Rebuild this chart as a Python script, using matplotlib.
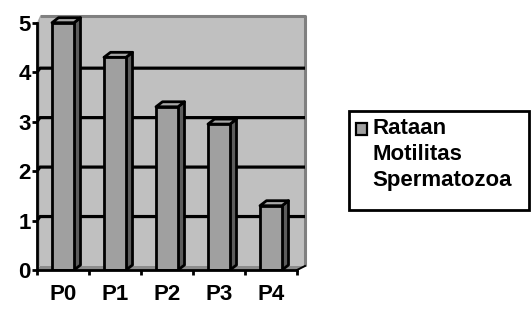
import matplotlib.pyplot as plt
from matplotlib.patches import Polygon, Rectangle

# data
categories = ['P0', 'P1', 'P2', 'P3', 'P4']
values = [5.0, 4.3, 3.3, 2.95, 1.3]
yticks = [0, 1, 2, 3, 4, 5]
legend_label = 'Rataan\nMotilitas\nSpermatozoa'

plt.rcParams['font.family'] = ['Liberation Sans', 'DejaVu Sans']
plt.rcParams['font.weight'] = 'bold'

W, H = 531, 313
fig = plt.figure(figsize=(W / 100, H / 100), dpi=100)

# axes placed in pixels: front axis 37..297 in x, 0 at y=270 and 5 at y=22.7
px_x = 52.0
px_y = (270 - 22.7) / 5
x0, y0 = 37, 270
ax_right, ax_top = 312, 10
ax = fig.add_axes([x0 / W, (H - y0) / H, (ax_right - x0) / W, (y0 - ax_top) / H])
ax.set_xlim(-0.5, -0.5 + (ax_right - x0) / px_x)
ax.set_ylim(0, (y0 - ax_top) / px_y)
ax.patch.set_visible(False)

# depth of the back wall (perspective: smaller on the left)
dxl = 3 / px_x
dxr = 8 / px_x
dy = 4 / px_y
wall_top = (y0 - 16) / px_y
n = len(categories)
xl, xr = -0.5, n - 0.5

wall_col = '#c0c0c0'
edge_gray = '#808080'
lw_main = 2.0
fs = 16

# left side wall and floor
ax.add_patch(Polygon([(xl, 0), (xl + dxl, dy), (xl + dxl, wall_top), (xl, 5)],
                     closed=True, facecolor='#a8a8a8', edgecolor='none', zorder=1))
ax.add_patch(Polygon([(xl, 0), (xr, 0), (xr + dxr, dy), (xl + dxl, dy)],
                     closed=True, facecolor='#8c8c8c', edgecolor='none', zorder=1))
# back wall
ax.add_patch(Rectangle((xl + dxl, dy), (xr + dxr) - (xl + dxl), wall_top - dy,
                       facecolor=wall_col, edgecolor='none', zorder=1))
ax.plot([xl + dxl, xr + dxr, xr + dxr], [wall_top, wall_top, dy],
        color=edge_gray, lw=2.2, zorder=1.5, solid_capstyle='butt')
ax.plot([xr, xr + dxr], [0, dy], color='black', lw=1.4, zorder=1.5)

# gridlines on the back wall
for v in yticks[1:-1]:
    ax.plot([xl, xl + dxl, xr + dxr], [v, v + dy, v + dy], color='black',
            lw=2.3, zorder=2, solid_capstyle='butt')

# bars
bw = 0.423
bdx = 6.5 / px_x
bdy = 5 / px_y
xs = list(range(n))
ax.bar(xs, values, width=bw, color='#a0a0a0', edgecolor='black', lw=lw_main, zorder=4)
for x, v in zip(xs, values):
    r = x + bw / 2
    l = x - bw / 2
    ax.add_patch(Polygon([(r, 0), (r + bdx, bdy), (r + bdx, v + bdy), (r, v)],
                         closed=True, facecolor='#5c5c5c', edgecolor='black',
                         lw=lw_main, zorder=3.5, joinstyle='round'))
    ax.add_patch(Polygon([(l, v), (l + bdx, v + bdy), (r + bdx, v + bdy), (r, v)],
                         closed=True, facecolor='#a8a8a8', edgecolor='black',
                         lw=lw_main, zorder=3.5, joinstyle='round'))

# axes lines and ticks
for s in ['top', 'right']:
    ax.spines[s].set_visible(False)
ax.spines['left'].set_bounds(0, 5)
ax.spines['bottom'].set_bounds(xl, xr)
for s in ['left', 'bottom']:
    ax.spines[s].set_linewidth(lw_main)
    ax.spines[s].set_zorder(6)

ax.set_yticks(yticks)
ax.set_yticklabels([str(t) for t in yticks])
ax.tick_params(axis='y', direction='out', length=3.5, width=lw_main, pad=1,
               labelsize=fs)
ax.set_xticks(xs)
ax.set_xticklabels(categories)
ax.set_xticks([i - 0.5 for i in range(n + 1)], minor=True)
ax.tick_params(axis='x', which='major', length=0, pad=10, labelsize=fs)
ax.tick_params(axis='x', which='minor', direction='out', length=3.5, width=lw_main)
for lab in ax.get_xticklabels() + ax.get_yticklabels():
    lab.set_fontweight('bold')

# legend drawn by hand
lx0, ly0, lx1, ly1 = 349, 111, 529, 210
fig.patches.append(Rectangle((lx0 / W, (H - ly1) / H), (lx1 - lx0) / W, (ly1 - ly0) / H,
                             transform=fig.transFigure, facecolor='white',
                             edgecolor='black', lw=lw_main))
fig.patches.append(Rectangle((356 / W, (H - 135) / H), 11 / W, 12 / H,
                             transform=fig.transFigure, facecolor='#a0a0a0',
                             edgecolor='black', lw=1.6))
fig.text(372 / W, (H - 118) / H, legend_label, fontsize=fs, fontweight='bold',
         va='top', ha='left', linespacing=1.3)

fig.savefig('out.png', dpi=100)
